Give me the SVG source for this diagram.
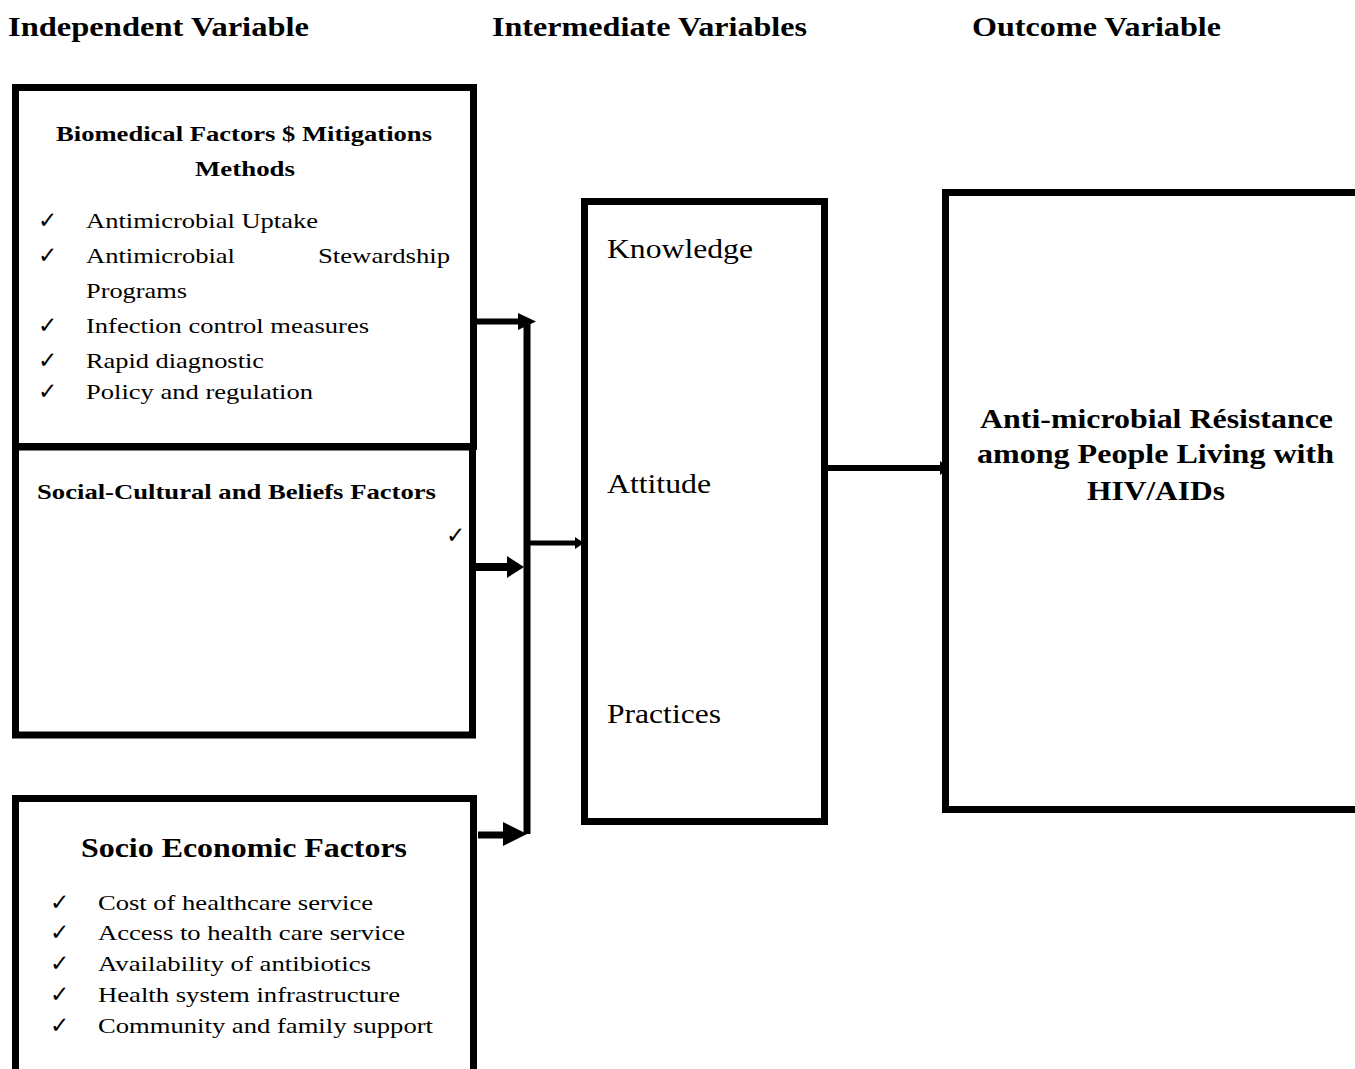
<svg xmlns="http://www.w3.org/2000/svg" width="1355" height="1069" viewBox="0 0 1355 1069">
<style>
.box{fill:none;stroke:#000;stroke-width:7}
.h,.t,.tb,.big{font-family:"Liberation Serif","Times New Roman",Tinos,"Nimbus Roman","Nimbus Roman No9 L",Times,serif;fill:#000}
.h{font-weight:bold;font-size:28px}
.t{font-size:22px}
.tb{font-weight:bold;font-size:22px}
.big{font-size:28px}
.ck{font-family:"DejaVu Sans",sans-serif;font-size:23px;fill:#000}
.ln{stroke:#000;fill:none}
</style>
<rect width="1355" height="1069" fill="#fff"/>
<g id="headers">
<text class="h" x="8" y="36" textLength="301" lengthAdjust="spacingAndGlyphs">Independent Variable</text>
<text class="h" x="492" y="36" textLength="315" lengthAdjust="spacingAndGlyphs">Intermediate Variables</text>
<text class="h" x="972" y="36" textLength="249" lengthAdjust="spacingAndGlyphs">Outcome Variable</text>
</g>
<g id="biomedical">
<rect class="box" x="15.5" y="87.5" width="458" height="359"/>
<text class="tb" x="56" y="141" textLength="376" lengthAdjust="spacingAndGlyphs">Biomedical Factors $ Mitigations</text>
<text class="tb" x="195" y="176" textLength="100" lengthAdjust="spacingAndGlyphs">Methods</text>
<text class="ck" x="38" y="228">✓</text>
<text class="t" x="86" y="228" textLength="232" lengthAdjust="spacingAndGlyphs">Antimicrobial Uptake</text>
<text class="ck" x="38" y="263">✓</text>
<text class="t" x="86" y="263" textLength="149" lengthAdjust="spacingAndGlyphs">Antimicrobial</text>
<text class="t" x="318" y="263" textLength="132" lengthAdjust="spacingAndGlyphs">Stewardship</text>
<text class="t" x="86" y="298" textLength="101" lengthAdjust="spacingAndGlyphs">Programs</text>
<text class="ck" x="38" y="333">✓</text>
<text class="t" x="86" y="333" textLength="283" lengthAdjust="spacingAndGlyphs">Infection control measures</text>
<text class="ck" x="38" y="368">✓</text>
<text class="t" x="86" y="368" textLength="178" lengthAdjust="spacingAndGlyphs">Rapid diagnostic</text>
<text class="ck" x="38" y="399">✓</text>
<text class="t" x="86" y="399" textLength="227" lengthAdjust="spacingAndGlyphs">Policy and regulation</text>
</g>
<g id="social">
<rect class="box" x="15.5" y="447" width="457" height="288"/>
<text class="tb" x="37" y="499" font-size="21" textLength="399" lengthAdjust="spacingAndGlyphs">Social-Cultural and Beliefs Factors</text>
<text class="ck" x="446" y="543" font-size="20">✓</text>
</g>
<g id="socioeconomic">
<path class="box" d="M15.5,1069 V798.5 H473.5 V1069"/>
<text class="h" x="81" y="857" textLength="326" lengthAdjust="spacingAndGlyphs">Socio Economic Factors</text>
<text class="ck" x="50" y="910">✓</text>
<text class="t" x="98" y="910" textLength="275" lengthAdjust="spacingAndGlyphs">Cost of healthcare service</text>
<text class="ck" x="50" y="940">✓</text>
<text class="t" x="98" y="940" textLength="307" lengthAdjust="spacingAndGlyphs">Access to health care service</text>
<text class="ck" x="50" y="971">✓</text>
<text class="t" x="98" y="971" textLength="273" lengthAdjust="spacingAndGlyphs">Availability of antibiotics</text>
<text class="ck" x="50" y="1002">✓</text>
<text class="t" x="98" y="1002" textLength="302" lengthAdjust="spacingAndGlyphs">Health system infrastructure</text>
<text class="ck" x="50" y="1033">✓</text>
<text class="t" x="98" y="1033" textLength="335" lengthAdjust="spacingAndGlyphs">Community and family support</text>
</g>
<g id="intermediate">
<rect class="box" x="584.5" y="201.5" width="240" height="620"/>
<text class="big" x="607" y="258" textLength="146" lengthAdjust="spacingAndGlyphs">Knowledge</text>
<text class="big" x="607" y="493" textLength="104" lengthAdjust="spacingAndGlyphs">Attitude</text>
<text class="big" x="607" y="723" textLength="114" lengthAdjust="spacingAndGlyphs">Practices</text>
</g>
<g id="outcome">
<path class="box" d="M1355,192.5 H945.5 V809.5 H1355"/>
<text class="h" x="980" y="428" textLength="353" lengthAdjust="spacingAndGlyphs">Anti-microbial Résistance</text>
<text class="h" x="977" y="463" textLength="357" lengthAdjust="spacingAndGlyphs">among People Living with</text>
<text class="h" x="1087" y="500" textLength="138" lengthAdjust="spacingAndGlyphs">HIV/AIDs</text>
</g>
<g id="connectors">
<line class="ln" x1="527" y1="320" x2="527" y2="834" stroke-width="7"/>
<line class="ln" x1="474" y1="321.5" x2="522" y2="321.5" stroke-width="6"/>
<polygon points="518,313 536,321.5 518,330"/>
<line class="ln" x1="476" y1="567" x2="512" y2="567" stroke-width="8"/>
<polygon points="507,556 524,567 507,578"/>
<line class="ln" x1="478" y1="835" x2="508" y2="835" stroke-width="7"/>
<polygon points="503,822 527,834 503,846"/>
<line class="ln" x1="530" y1="543" x2="578" y2="543" stroke-width="5"/>
<polygon points="575,537 584,543 575,549"/>
<line class="ln" x1="827" y1="468" x2="942" y2="468" stroke-width="6"/>
<polygon points="940,461 949,468 940,475"/>
</g>
</svg>
